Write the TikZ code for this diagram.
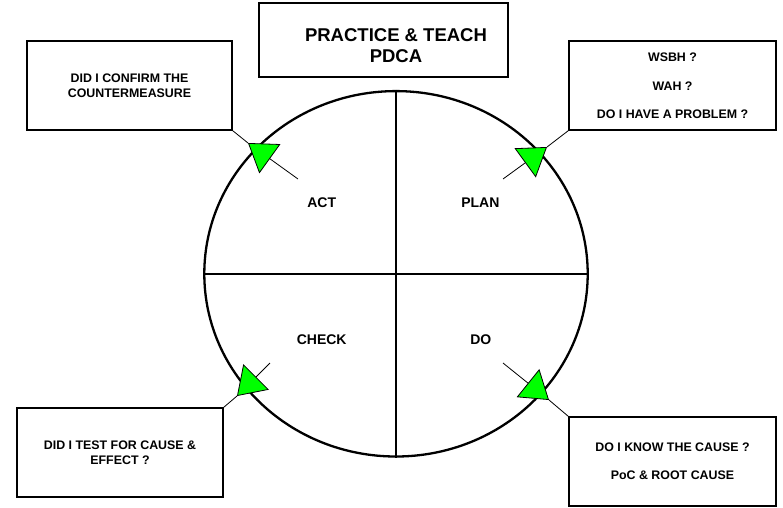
\documentclass[tikz,border=0pt]{standalone}
\usepackage{fontspec}
\setmainfont{Liberation Sans}
\usetikzlibrary{arrows.meta,shapes.geometric}
\definecolor{arrowgreen}{RGB}{0,255,0}
\tikzset{
  qbox/.style={draw=black, line width=1.1pt, rectangle, inner sep=0pt, align=center,
    font=\fontsize{12.4}{15}\selectfont\bfseries},
  titlebox/.style={draw=black, line width=2.6pt, rectangle, inner sep=0pt},
  titletext/.style={align=center, inner sep=0pt, font=\fontsize{18.5}{21}\selectfont\bfseries},
  quad/.style={inner sep=0pt, font=\fontsize{14}{16}\selectfont\bfseries},
  cycle/.style={draw=black, line width=2.3pt, ellipse, inner sep=0pt},
  divider/.style={draw=black, line width=2pt},
  conn/.style={draw=black, line width=0.8pt},
  greentip/.style={conn, -{Triangle[length=27pt,width=36pt,fill=arrowgreen]}}
}
\begin{document}
\begin{tikzpicture}[x=1pt,y=-1pt]
\useasboundingbox[fill=white] (0,0) rectangle (783,507);

% title
\node[titlebox, minimum width=249pt, minimum height=74pt] (titlebox) at (383.5,40) {};
\node[titletext] (title) at (396,45.5) {PRACTICE \& TEACH\\PDCA};

% cycle
\node[cycle, minimum width=383.4pt, minimum height=365.4pt] (cyc) at (396,273.8) {};
\draw[divider] (cyc.north) -- (cyc.south);
\draw[divider] (cyc.west) -- (cyc.east);

% quadrant labels
\node[quad] (act) at (321.7,202.7) {ACT};
\node[quad] (plan) at (480.3,202.7) {PLAN};
\node[quad] (check) at (321.7,340) {CHECK};
\node[quad] (do) at (480.8,340) {DO};

% question boxes
\node[qbox, minimum width=205pt, minimum height=89pt] (actbox) at (129.5,85.5)
  {DID I CONFIRM THE\\COUNTERMEASURE};
\node[qbox, minimum width=207pt, minimum height=89pt] (planbox) at (672.5,85.5)
  {WSBH ?\\[14pt]WAH ?\\[13pt]DO I HAVE A PROBLEM ?};
\node[qbox, minimum width=206pt, minimum height=89pt] (checkbox) at (120,452.5)
  {DID I TEST FOR CAUSE \&\\EFFECT ?};
\node[qbox, minimum width=207pt, minimum height=89pt] (dobox) at (672.5,461.5)
  {DO I KNOW THE CAUSE ?\\[13pt]PoC \& ROOT CAUSE};

% connector coordinates
\coordinate (actin) at (298,179);
\coordinate (acttip) at (248,143);
\coordinate (planin) at (503,179);
\coordinate (plantip) at (547,147);
\coordinate (checkin) at (270,363);
\coordinate (checktip) at (237,396);
\coordinate (doin) at (503,363);
\coordinate (dotip) at (549,400);

% connectors
\draw[greentip] (actin) -- (acttip);
\draw[conn] (acttip) -- (actbox.south east);
\draw[greentip] (planin) -- (plantip);
\draw[conn] (plantip) -- (planbox.south west);
\draw[greentip] (checkin) -- (checktip);
\draw[conn] (checktip) -- (checkbox.north east);
\draw[greentip] (doin) -- (dotip);
\draw[conn] (dotip) -- (dobox.north west);
\end{tikzpicture}
\end{document}
